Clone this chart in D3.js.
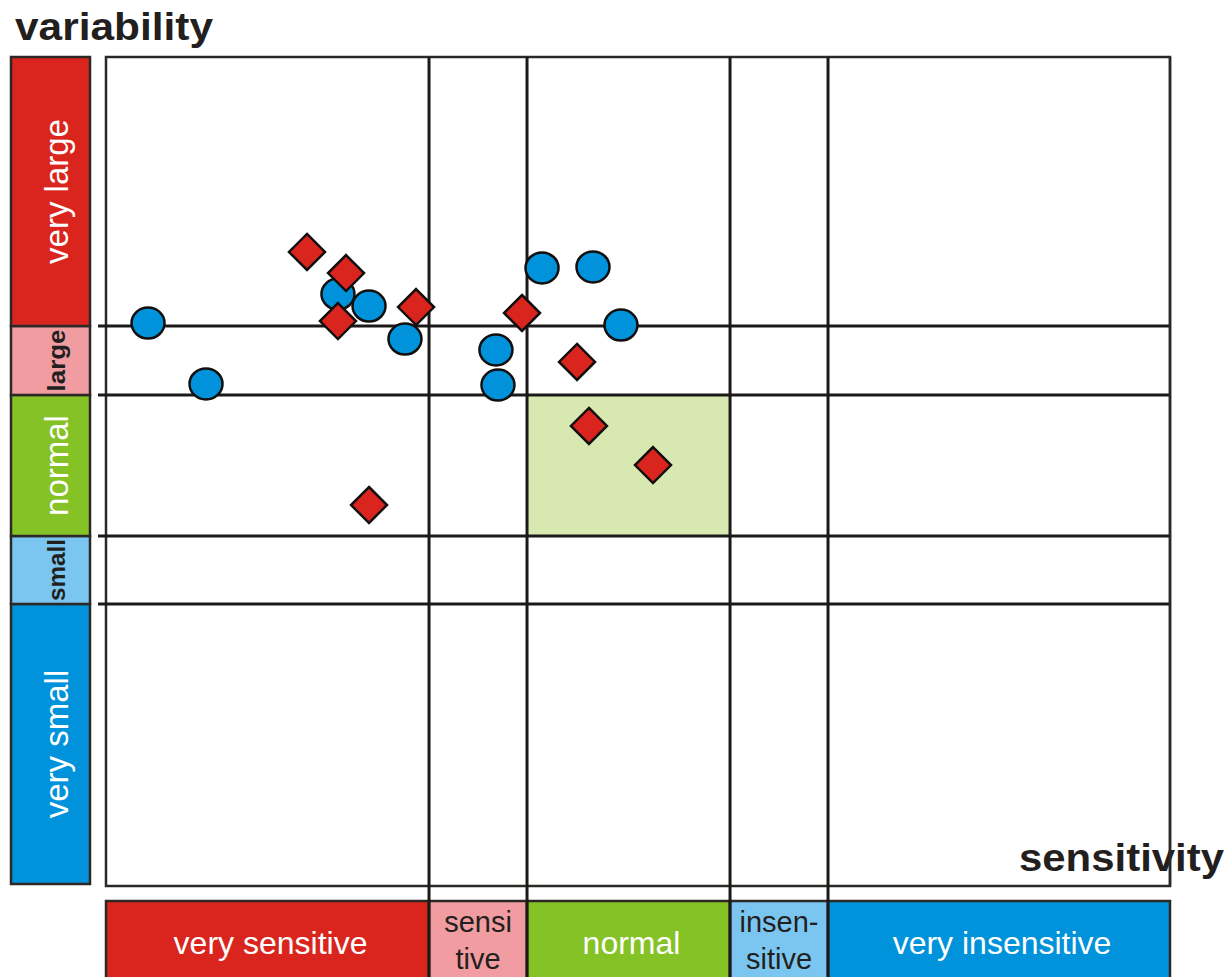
<!DOCTYPE html>
<html>
<head>
<meta charset="utf-8">
<script src="https://cdn.jsdelivr.net/npm/d3@7"></script>
<style>
  body { margin: 0; background: #fff; }
  text { font-family: 'Liberation Sans', Arial, sans-serif; }
</style>
</head>
<body>
<div id="chart"></div>
<script>
// sensitivity classes (x) and variability classes (y), bounds in index units 0..100
const sensClasses = ['very sensitive', 'sensitive', 'normal', 'insensitive', 'very insensitive'];
const sensBreaks = [0, 30.36, 39.57, 58.65, 67.86, 100];
const sensLabels = [['very sensitive'], ['sensi', 'tive'], ['normal'], ['insen-', 'sitive'], ['very insensitive']];
const sensColors = ['#d9251d', '#f09ca1', '#85c226', '#7bc6f0', '#0092da'];
const sensText = ['#fff', '#231f1e', '#fff', '#231f1e', '#fff'];

const varClasses = ['very small', 'small', 'normal', 'large', 'very large'];
const varBreaks = [0, 34.02, 42.22, 59.23, 67.55, 100];
const varColors = ['#0092da', '#7bc6f0', '#85c226', '#f09ca1', '#d9251d'];
const varText = ['#fff', '#231f1e', '#fff', '#231f1e', '#fff'];
const varBold = [false, true, false, true, false];

// highlighted target cell: normal sensitivity, normal variability
const targetCell = { sens: 'normal', vari: 'normal' };

// observations in drawing order: [shape, sensitivity, variability]
const markers = [
  ['circle', 3.95, 67.91],
  ['circle', 9.40, 60.56],
  ['circle', 21.80, 71.41],
  ['circle', 24.72, 69.96],
  ['circle', 36.65, 64.66],
  ['circle', 36.84, 60.43],
  ['circle', 40.98, 74.55],
  ['circle', 45.77, 74.67],
  ['circle', 48.40, 67.67],
  ['diamond', 18.89, 76.48],
  ['diamond', 22.56, 73.94],
  ['diamond', 21.80, 68.15],
  ['diamond', 29.14, 69.84],
  ['circle', 28.10, 65.98],
  ['diamond', 39.10, 69.12],
  ['diamond', 44.27, 63.21],
  ['diamond', 45.39, 55.49],
  ['diamond', 51.41, 50.78],
  ['diamond', 24.72, 45.96],
];

const width = 1230;
const height = 977;
const plot = { left: 106, right: 1170, top: 57, bottom: 886 };
const lineColor = '#1c1a18';

const svg = d3.select('#chart').append('svg')
  .attr('width', width)
  .attr('height', height);

const x = d3.scaleLinear().domain([0, 100]).range([plot.left, plot.right]);
const y = d3.scaleLinear().domain([0, 100]).range([plot.bottom, plot.top]);

// highlighted cell
const si = sensClasses.indexOf(targetCell.sens);
const vi = varClasses.indexOf(targetCell.vari);
svg.append('rect')
  .attr('x', x(sensBreaks[si]))
  .attr('y', y(varBreaks[vi + 1]))
  .attr('width', x(sensBreaks[si + 1]) - x(sensBreaks[si]))
  .attr('height', y(varBreaks[vi]) - y(varBreaks[vi + 1]))
  .attr('fill', '#d8e8b1');

// left legend (variability)
const legendLeft = { x0: 11, x1: 90 };
const vLeg = svg.append('g');
varClasses.forEach((c, i) => {
  const y0 = y(varBreaks[i + 1]);
  const y1 = i === 0 ? y(0) - 2 : y(varBreaks[i]);
  vLeg.append('rect')
    .attr('x', legendLeft.x0)
    .attr('y', y0)
    .attr('width', legendLeft.x1 - legendLeft.x0)
    .attr('height', y1 - y0)
    .attr('fill', varColors[i])
    .attr('stroke', '#2b2826')
    .attr('stroke-width', 2.5);
  const cx = (legendLeft.x0 + legendLeft.x1) / 2 + 6;
  const cy = (y0 + y1) / 2;
  const t = vLeg.append('text')
    .attr('transform', `translate(${cx},${cy}) rotate(-90)`)
    .attr('text-anchor', 'middle')
    .attr('dy', '0.35em')
    .attr('fill', varText[i])
    .style('font-size', varBold[i] ? '24px' : '33px')
    .style('font-weight', varBold[i] ? 'bold' : 'normal')
    .text(c);
  if (varBold[i]) t.attr('textLength', 62).attr('lengthAdjust', 'spacingAndGlyphs');
});

// bottom legend (sensitivity)
const legendBottom = { y0: 901, y1: 990 };
const sLeg = svg.append('g');
sensClasses.forEach((c, i) => {
  const x0 = x(sensBreaks[i]);
  const x1 = x(sensBreaks[i + 1]);
  sLeg.append('rect')
    .attr('x', x0)
    .attr('y', legendBottom.y0)
    .attr('width', x1 - x0)
    .attr('height', legendBottom.y1 - legendBottom.y0)
    .attr('fill', sensColors[i])
    .attr('stroke', '#2b2826')
    .attr('stroke-width', 2.5);
  const lines = sensLabels[i];
  const t = sLeg.append('text')
    .attr('text-anchor', 'middle')
    .attr('fill', sensText[i])
    .style('font-size', lines.length > 1 ? '29px' : '32px');
  if (lines.length === 1) {
    t.append('tspan').attr('x', (x0 + x1) / 2 + 3).attr('y', 954).text(lines[0]);
  } else {
    lines.forEach((l, j) => {
      t.append('tspan').attr('x', (x0 + x1) / 2).attr('y', 932 + j * 37).text(l);
    });
  }
});

// plot frame
svg.append('rect')
  .attr('x', plot.left)
  .attr('y', plot.top)
  .attr('width', plot.right - plot.left)
  .attr('height', plot.bottom - plot.top)
  .attr('fill', 'none')
  .attr('stroke', '#2b2826')
  .attr('stroke-width', 2.5);

// axis titles
svg.append('text')
  .attr('x', 15)
  .attr('y', 40)
  .style('font-size', '39px')
  .style('font-weight', 'bold')
  .attr('fill', '#231f1e')
  .attr('textLength', 198)
  .attr('lengthAdjust', 'spacingAndGlyphs')
  .text('variability');

svg.append('text')
  .attr('x', 1019)
  .attr('y', 871)
  .style('font-size', '39px')
  .style('font-weight', 'bold')
  .attr('fill', '#231f1e')
  .attr('textLength', 205)
  .attr('lengthAdjust', 'spacingAndGlyphs')
  .text('sensitivity');

// class boundary lines
const grid = svg.append('g')
  .attr('stroke', lineColor)
  .attr('stroke-width', 3);

grid.selectAll('line.h')
  .data(varBreaks.slice(1, -1))
  .join('line')
  .attr('class', 'h')
  .attr('x1', 98)
  .attr('x2', plot.right)
  .attr('y1', (d) => y(d))
  .attr('y2', (d) => y(d));

grid.selectAll('line.v')
  .data(sensBreaks.slice(1, -1))
  .join('line')
  .attr('class', 'v')
  .attr('x1', (d) => x(d))
  .attr('x2', (d) => x(d))
  .attr('y1', plot.top)
  .attr('y2', height + 5);

// right border drawn over the title
svg.append('line')
  .attr('x1', plot.right)
  .attr('x2', plot.right)
  .attr('y1', plot.top)
  .attr('y2', plot.bottom)
  .attr('stroke', '#2b2826')
  .attr('stroke-width', 2.5);

// markers
const diamond = (r) => `M0,${-r}L${r},0L0,${r}L${-r},0Z`;
svg.append('g').selectAll('.mark')
  .data(markers)
  .join((enter) => enter.append('path'))
  .attr('class', 'mark')
  .attr('transform', (d) => `translate(${x(d[1])},${y(d[2])})`)
  .attr('d', (d) => (d[0] === 'diamond'
    ? diamond(18)
    : 'M-16.5,0a16.5,15.5 0 1,0 33,0a16.5,15.5 0 1,0 -33,0Z'))
  .attr('fill', (d) => (d[0] === 'diamond' ? '#d9251d' : '#0092da'))
  .attr('stroke', '#120f0e')
  .attr('stroke-width', 2.5);
</script>
</body>
</html>
